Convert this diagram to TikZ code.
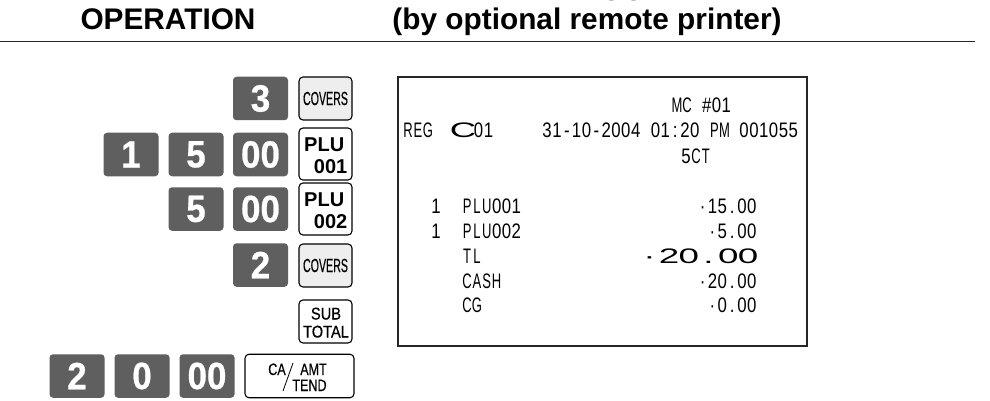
\documentclass[tikz,border=0pt]{standalone}
\usepackage{fontspec}
\setmainfont{Liberation Sans}
\newfontfamily\rcptfont[FakeStretch=0.8]{Liberation Sans}
\newfontfamily\rcptletters[FakeStretch=0.62]{Liberation Sans}
\newfontfamily\widefont[FakeStretch=1.75]{Liberation Sans}
\newfontfamily\narrowfont[FakeStretch=0.56,FakeBold=0.3]{Liberation Sans}
\newfontfamily\caFont[FakeStretch=0.76,FakeBold=0.4]{Liberation Sans}
\newfontfamily\keyfont[FakeStretch=0.92,FakeBold=0.6]{Liberation Sans Bold}
\newfontfamily\smallfont[FakeStretch=0.86,FakeBold=0.5]{Liberation Sans}
\def\monoend{\monoend}
\def\monoaux#1{\ifx#1\monoend\else\makebox[9.85pt]{#1}\expandafter\monoaux\fi}
\newcommand\mono[1]{\monoaux#1\monoend}
\newcommand\lmono[1]{{\rcptletters\fontsize{21}{21}\selectfont\monoaux#1\monoend}}
\def\wideaux#1{\ifx#1\monoend\else\makebox[19.7pt]{#1}\expandafter\wideaux\fi}
\newcommand\widemono[1]{\wideaux#1\monoend}
\definecolor{keygray}{HTML}{5F5F5F}
\definecolor{softkey}{HTML}{EEEEEE}
\tikzset{
 numkey/.style={fill=keygray,rounded corners=3.5pt,minimum width=55pt,minimum height=43.5pt,inner sep=0pt,text=white,font=\fontsize{38}{38}\keyfont},
 funckey/.style={draw=black,line width=1.1pt,rounded corners=4pt,minimum width=53pt,inner sep=0pt},
 headtext/.style={anchor=base,inner sep=0pt,font=\fontsize{29.8}{30}\selectfont\bfseries},
 rcpt/.style={anchor=base west,inner sep=0pt,font=\fontsize{21}{21}\rcptfont},
 rcptr/.style={anchor=base east,inner sep=0pt,font=\fontsize{21}{21}\rcptfont},
 plutext/.style={inner sep=0pt,font=\fontsize{20}{20}\selectfont\bfseries},
 subtext/.style={inner sep=0pt,anchor=base,font=\fontsize{17}{17}\smallfont},
 catext/.style={inner sep=0pt,anchor=base,font=\fontsize{16.5}{17}\caFont},
}
\begin{document}
\begin{tikzpicture}[x=1pt,y=-1pt]
\useasboundingbox (0,0) rectangle (990,401);
\clip (0,0) rectangle (990,401);
\fill[white] (0,0) rectangle (990,401);
% headers
\node[headtext] (hop) at (168,30) {OPERATION};
\node[headtext] (hpr) at (587,1) {PRINTOUT};
\node[headtext] (hby) at (587,30) {(by optional remote printer)};
\coordinate (ruleL) at (0,41.5);
\coordinate (ruleR) at (975,41.5);
\draw[line width=1.2pt,color=black!85] (ruleL) -- (ruleR);
% row 1
\node[numkey] (k3) at (260.5,98.5) {3};
\node[funckey,fill=softkey,minimum height=43pt] (cov1) at (325.5,98.5) {\fontsize{19}{19}\narrowfont COVERS};
% row 2
\node[numkey] (k1) at (131,154.5) {1};
\node[numkey] (k5) at (196,154.5) {5};
\node[numkey] (k00) at (260.5,154.5) {00};
\node[funckey,minimum height=52pt] (plu1) at (325.5,154) {};
\node[plutext,anchor=base west] (plu1a) at (304,151) {PLU};
\node[plutext,anchor=base east] (plu1b) at (347.5,173) {001};
% row 3
\node[numkey] (k5b) at (196,209) {5};
\node[numkey] (k00b) at (260.5,209) {00};
\node[funckey,minimum height=52pt] (plu2) at (325.5,209) {};
\node[plutext,anchor=base west] (plu2a) at (304,206) {PLU};
\node[plutext,anchor=base east] (plu2b) at (347.5,228) {002};
% row 4
\node[numkey] (k2) at (260.5,265) {2};
\node[funckey,fill=softkey,minimum height=43pt] (cov2) at (325.5,265.5) {\fontsize{19}{19}\narrowfont COVERS};
% row 5
\node[funckey,minimum height=43pt] (sub) at (325.5,321.5) {};
\node[subtext] (suba) at (326,319.5) {SUB};
\node[subtext] (subb) at (326,337.5) {TOTAL};
% row 6
\node[numkey] (k2b) at (77,376) {2};
\node[numkey] (k0) at (142,376) {0};
\node[numkey] (k00c) at (207,376) {00};
\node[funckey,minimum width=109pt,minimum height=43.5pt] (cash) at (299.5,376) {};
\node[catext] (ca) at (277,375) {CA};
\node[catext] (amt) at (313.5,375) {AMT};
\node[catext] (tend) at (309.5,391) {TEND};
\coordinate (slashT) at (293,363);
\coordinate (slashB) at (283,391);
\draw[line width=0.8pt] (slashT) -- (slashB);
% receipt
\node[draw=black!85,line width=1.2pt,minimum width=409pt,minimum height=269pt,inner sep=0pt] (box) at (602.5,211.5) {};
\node[rcpt] (r1) at (672,113) {\lmono{MC}\mono{~\#01}};
\node[rcpt] (r2) at (403,137) {\lmono{REG}};
\node[rcpt,font=\fontsize{21}{21}\widefont] (r3) at (453,137) {\widemono{C}};
\node[rcpt] (r4) at (473.5,137) {\mono{01}};
\node[rcpt] (r5) at (542,137) {\mono{31-10-2004~01:20~}\lmono{PM}\mono{~001055}};
\node[rcpt] (r6) at (681,163) {\mono{5}\lmono{CT}};
\node[rcpt] (q1) at (431,213) {\mono{1}};
\node[rcpt] (n1) at (462,213) {\lmono{PLU}\mono{001}};
\node[rcptr] (a1) at (757,213) {\mono{\textperiodcentered15.00}};
\node[rcpt] (q2) at (431,238) {\mono{1}};
\node[rcpt] (n2) at (462,238) {\lmono{PLU}\mono{002}};
\node[rcptr] (a2) at (757,238) {\mono{\textperiodcentered5.00}};
\node[rcpt] (n3) at (462,263) {\lmono{TL}};
\node[rcptr,font=\fontsize{21}{21}\widefont] (a3) at (758,263) {\widemono{\textperiodcentered20.00}};
\node[rcpt] (n4) at (462,288) {\lmono{CASH}};
\node[rcptr] (a4) at (757,288) {\mono{\textperiodcentered20.00}};
\node[rcpt] (n5) at (462,312) {\lmono{CG}};
\node[rcptr] (a5) at (757,312) {\mono{\textperiodcentered0.00}};
\end{tikzpicture}
\end{document}
